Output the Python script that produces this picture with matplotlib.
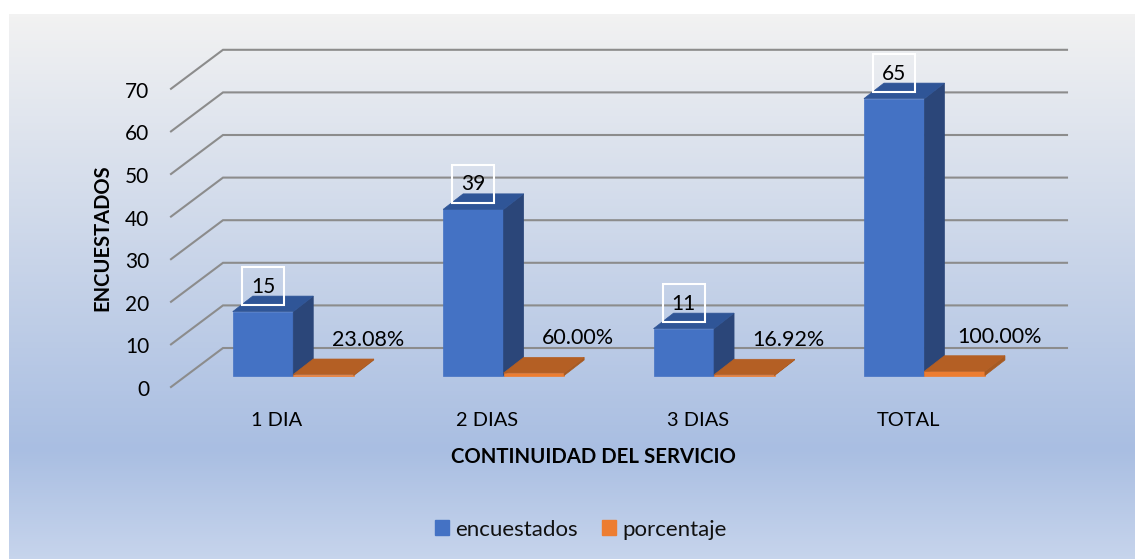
import numpy as np
import matplotlib
matplotlib.use("Agg")
import matplotlib.pyplot as plt
from matplotlib.colors import LinearSegmentedColormap
from matplotlib.patches import Patch, Rectangle

categories = ["1 DIA", "2 DIAS", "3 DIAS", "TOTAL"]
encuestados = [15, 39, 11, 65]
porcentaje = [0.2308, 0.60, 0.1692, 1.00]
porcentaje_labels = ["23.08%", "60.00%", "16.92%", "100.00%"]
y_ticks = [0, 10, 20, 30, 40, 50, 60, 70]

W, H = 1135, 559
X0, X_STEP = 263, 210.4    # pixel of the first category, pixels per category
Y0, Y_STEP = 375.5, 4.26   # pixel of value 0 on the bar front, pixels per unit

plt.rcParams['font.family'] = ['Lato', 'DejaVu Sans']

fig = plt.figure(figsize=(W / 100, H / 100), dpi=100, facecolor="white")

# fondo con degradado
bg = fig.add_axes([9 / W, 0, (W - 9) / W, (H - 14) / H])
cmap = LinearSegmentedColormap.from_list(
    "fondo", [(0, "#F2F2F2"), (0.8, "#A9BEE2"), (1, "#C6D4EC")]
)
bg.imshow(np.linspace(0, 1, 545).reshape(-1, 1), aspect="auto", cmap=cmap)
bg.axis("off")

# eje de datos: x en categorias, y en encuestados
ax = fig.add_axes([0, 0, 1, 1])
ax.patch.set_alpha(0)
ax.axis("off")
ax.set_xlim(-X0 / X_STEP, (W - X0) / X_STEP)
ax.set_ylim((Y0 - H) / Y_STEP, Y0 / Y_STEP)


def dx(px):
    return px / X_STEP


def dy(px):
    return px / Y_STEP


def box3d(x_left, x_right, top, front, side, roof):
    ox, oy = dx(20), dy(15.5)
    ax.fill([x_left, x_right, x_right, x_left], [0, 0, top, top], color=front, lw=0.5, zorder=3)
    ax.fill([x_right, x_right + ox, x_right + ox, x_right],
            [0, oy, top + oy, top], color=side, lw=0.5, zorder=3)
    ax.fill([x_left, x_right, x_right + ox, x_left + ox],
            [top, top, top + oy, top + oy], color=roof, lw=0.5, zorder=3)


# rejilla: pared del fondo y piso
x_wall_front = (171 - X0) / X_STEP
x_wall_back = (223 - X0) / X_STEP
x_wall_end = (1067 - X0) / X_STEP
wall_back = dy(Y0 - 348)
wall_front = dy(Y0 - 387)
for v in y_ticks:
    ax.plot([x_wall_front, x_wall_back, x_wall_end],
            [v + wall_front, v + wall_back, v + wall_back],
            color="#8C8C8C", lw=1.5, solid_joinstyle="miter", zorder=1)
    ax.text((149.5 - X0) / X_STEP, v + wall_front - dy(3), str(v), ha="right", va="center",
            fontsize=15, color="black")

# barras
bar_w = 60.5 / X_STEP
for i in range(len(categories)):
    box3d(i - bar_w / 2, i + bar_w / 2, encuestados[i], "#4472C4", "#2B4679", "#2F5597")
    box3d(i + bar_w / 2, i + 1.5 * bar_w, porcentaje[i], "#ED7D31", "#A65A22", "#B45F24")

    ax.add_patch(Rectangle((i - dx(21), encuestados[i] + dy(6.5)), dx(42), dy(38),
                           fill=False, ec="white", lw=1.5, zorder=4))
    ax.text(i, encuestados[i] + dy(25), str(encuestados[i]), ha="center", va="center",
            fontsize=15, color="black", zorder=5)
    ax.text(i + dx(105), porcentaje[i] + dy(34.5), porcentaje_labels[i], ha="center",
            va="center", fontsize=15.5, color="black", zorder=5)
    ax.text(i + dx(14), -dy(45), categories[i], ha="center", va="center",
            fontsize=14.4, color="black")

ax.text((593 - X0) / X_STEP, -dy(81.5), "CONTINUIDAD DEL SERVICIO", ha="center", va="center",
        fontsize=14.7, fontweight="bold", color="black")
ax.text((102 - X0) / X_STEP, dy(138), "ENCUESTADOS", ha="center", va="center",
        rotation=90, fontsize=14.5, fontweight="bold", color="black")

handles = [Patch(color="#4472C4", label="encuestados"), Patch(color="#ED7D31", label="porcentaje")]
ax.legend(handles=handles, loc="center", bbox_to_anchor=(581 / W, 1 - 529.5 / H), ncol=2,
          frameon=False, fontsize=16, handlelength=0.62, handleheight=0.62,
          handletextpad=0.3, columnspacing=1.1, labelcolor="#111111")

fig.savefig("out.png", dpi=100)
